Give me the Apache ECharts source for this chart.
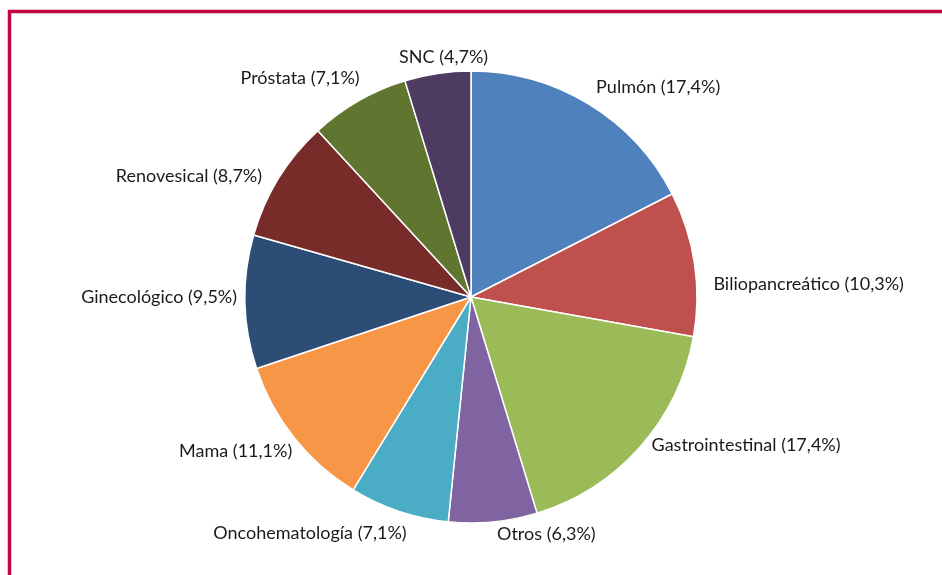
<!DOCTYPE html>
<html>
<head>
<meta charset="utf-8">
<script src="https://cdn.jsdelivr.net/npm/echarts@6/dist/echarts.min.js"></script>
<style>html,body{margin:0;padding:0;background:#fff;}#c{width:942px;height:575px;}</style>
</head>
<body>
<div id="c"></div>
<script>
const categories = ['Pulmón','Biliopancreático','Gastrointestinal','Otros','Oncohematología','Mama','Ginecológico','Renovesical','Próstata','SNC'];
const values = [17.4, 10.3, 17.4, 6.3, 7.1, 11.1, 9.5, 8.7, 7.1, 4.7];
const colors = ['#4F81BD','#C0504D','#9BBB59','#8064A2','#4BACC6','#F79646','#2C4D75','#772C2A','#5F7530','#4D3B62'];
// small nudges of the outside labels (as placed in the original figure)
const labelNudge = [[-3,-8],[4,22],[-1,-8],[-2,2],[16,13],[11,7],[7,-5],[-3,3],[11,-14],[57,-6]];

const chart = echarts.init(document.getElementById('c'), null, {renderer:'canvas'});
chart.setOption({
  animation: false,
  backgroundColor: '#fff',
  color: colors,
  graphic: [{
    type: 'rect', silent: true,
    shape: {x: 9.5, y: 11.5, width: 1000, height: 1000},
    style: {fill: 'none', stroke: '#C0083E', lineWidth: 3.5}
  }],
  series: [{
    type: 'pie',
    center: [471, 297],
    radius: 226,
    startAngle: 90,
    clockwise: true,
    avoidLabelOverlap: false,
    itemStyle: {borderColor: '#fff', borderWidth: 1.5},
    label: {
      show: true,
      position: 'outside',
      formatter: p => p.name + ' (' + p.value.toFixed(1).replace('.', ',') + '%)',
      fontFamily: 'Lato',
      fontSize: 18,
      color: '#1a1a1a'
    },
    labelLine: {show: false, length: 10, length2: 0},
    labelLayout: p => ({dx: labelNudge[p.dataIndex][0], dy: labelNudge[p.dataIndex][1]}),
    emphasis: {disabled: true},
    data: categories.map((n, i) => ({name: n, value: values[i]}))
  }]
});
</script>
</body>
</html>
